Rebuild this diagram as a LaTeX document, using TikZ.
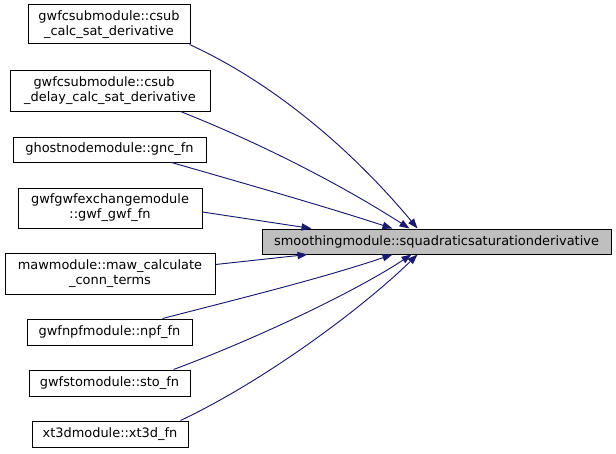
\documentclass[tikz,border=0pt]{standalone}
\usepackage{fontspec}
\setmainfont{DejaVu Sans}
\usetikzlibrary{arrows.meta,calc}
\definecolor{edgeblue}{RGB}{25,25,112}
\definecolor{targetgray}{RGB}{191,191,191}
\begin{document}
\begin{tikzpicture}[x=0.75pt,y=-0.75pt,
  box/.style={draw=black,line width=0.75pt,fill=white,inner sep=0pt,align=center,
    font=\fontsize{9.7}{11.2}\selectfont},
  tbox/.style={box,fill=targetgray},
  edge/.style={draw=edgeblue,line width=0.7pt,-{Triangle[length=7.5pt,width=5.4pt]}}]
\useasboundingbox (0,0) rectangle (616,453);
\node[box,minimum width=162*0.75pt,minimum height=39*0.75pt] (b1) at (109,24.5) {gwfcsubmodule::csub\\\_calc\_sat\_derivative};
\node[box,align=left,minimum width=200*0.75pt,minimum height=41*0.75pt] (b2) at (110,90.5) {\hspace*{7pt}gwfcsubmodule::csub\\\_delay\_calc\_sat\_derivative};
\node[box,minimum width=193*0.75pt,minimum height=25*0.75pt] (b3) at (109.5,149.5) {ghostnodemodule::gnc\_fn};
\node[box,minimum width=184*0.75pt,minimum height=40*0.75pt] (b4) at (110,208) {gwfgwfexchangemodule\\::gwf\_gwf\_fn};
\node[box,minimum width=210*0.75pt,minimum height=41*0.75pt] (b5) at (110,273.5) {mawmodule::maw\_calculate\\\_conn\_terms};
\node[box,minimum width=165*0.75pt,minimum height=26*0.75pt] (b6) at (109.5,332) {gwfnpfmodule::npf\_fn};
\node[box,minimum width=161*0.75pt,minimum height=26*0.75pt] (b7) at (109.5,383) {gwfstomodule::sto\_fn};
\node[box,minimum width=156*0.75pt,minimum height=26*0.75pt] (b8) at (110,434) {xt3dmodule::xt3d\_fn};
\node[tbox,minimum width=349*0.75pt,minimum height=25*0.75pt] (t) at (436.5,241.5) {smoothingmodule::squadraticsaturationderivative};
\draw[edge] ($(b1.south east)+(-1,0)$) .. controls (280,86) and (358,157) .. ($(t.north west)+(156,0)$);
\draw[edge] ($(b2.south east)+(-30,0)$) .. controls (260,143) and (340,184) .. ($(t.north west)+(148,0)$);
\draw[edge] ($(b3.south east)+(-35,0)$) .. controls (250,185) and (330,208) .. ($(t.north west)+(131,0)$);
\draw[edge] ($(b4.east)+(0,4)$) -- ($(t.north west)+(50,0)$);
\draw[edge] ($(b5.east)+(0,-9)$) -- ($(t.south west)+(46,0)$);
\draw[edge] ($(b6.north east)+(-30,0)$) .. controls (242,298) and (323,278) .. ($(t.south west)+(131,0)$);
\draw[edge] ($(b7.north east)+(-17,0)$) .. controls (253,340) and (353,293) .. ($(t.south west)+(150,0)$);
\draw[edge] ($(b8.north east)+(-8,0)$) .. controls (260,383) and (357,313) .. ($(t.south west)+(156,0)$);
\end{tikzpicture}
\end{document}
